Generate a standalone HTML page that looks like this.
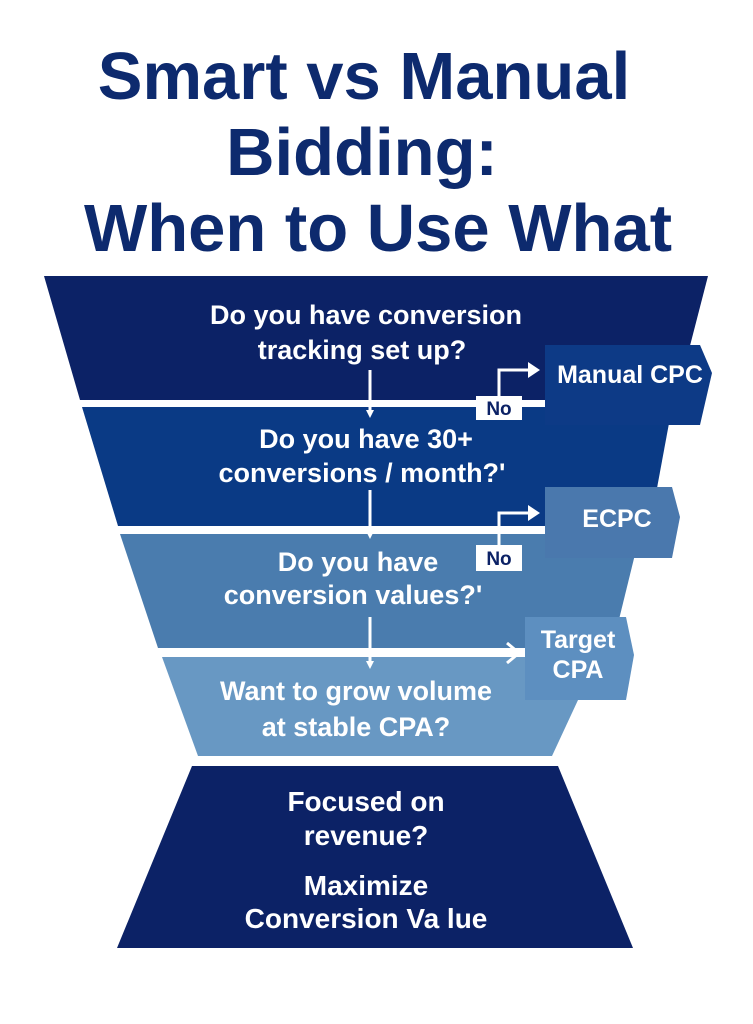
<!DOCTYPE html>
<html><head><meta charset="utf-8"><style>
html,body{margin:0;padding:0;background:#fff;}
svg{display:block}
text{font-family:"Liberation Sans",Arial,sans-serif;font-weight:bold;}
</style></head><body>
<svg width="753" height="1024" viewBox="0 0 753 1024" xmlns="http://www.w3.org/2000/svg">
<defs>
<marker id="ah" markerWidth="8" markerHeight="8" refX="4" refY="4" orient="auto" markerUnits="userSpaceOnUse"><path d="M0,0 L8,4 L0,8 z" fill="#fff"/></marker>
</defs>
<g fill="#0d2a6e" font-size="67" text-anchor="middle">
<text x="364" y="99">Smart vs Manual</text>
<text x="362" y="175">Bidding:</text>
<text x="378" y="251">When to Use What</text>
</g>
<polygon points="44,276 708,276 676,400 80,400" fill="#0c2266"/>
<polygon points="82,407 672,407 650,526 118,526" fill="#0a3a85"/>
<polygon points="120,534 640,534 612,648 158,648" fill="#4a7cae"/>
<polygon points="162,657 598,657 552,756 198,756" fill="#6898c3"/>
<polygon points="192,766 558,766 633,948 117,948" fill="#0c2266"/>
<polygon points="545,345 700,345 712,373 700,425 545,425" fill="#0d3a86"/>
<polygon points="545,487 672,487 680,517 672,558 545,558" fill="#4a78ad"/>
<polygon points="525,617 626,617 634,655 626,700 525,700" fill="#5d8fc0"/>
<g stroke="#fff" stroke-width="3" fill="none">
<line x1="370" y1="370" x2="370" y2="414" marker-end="url(#ah)"/>
<line x1="370" y1="490" x2="370" y2="535" marker-end="url(#ah)"/>
<line x1="370" y1="617" x2="370" y2="665" marker-end="url(#ah)"/>
<polyline points="499,396 499,370 530,370"/>
<polyline points="499,546 499,513 530,513"/>
<polyline points="160,653 510,653"/>
<polyline points="507,643 519,653 507,663"/>
</g>
<polygon points="528,362 540,370 528,378" fill="#fff"/>
<polygon points="528,505 540,513 528,521" fill="#fff"/>
<rect x="476" y="396" width="46" height="24" fill="#fff"/>
<rect x="476" y="545" width="46" height="26" fill="#fff"/>
<g fill="#0c2266" font-size="19" text-anchor="middle">
<text x="499" y="415">No</text>
<text x="499" y="565">No</text>
</g>
<g fill="#fff" font-size="27" text-anchor="middle">
<text x="366" y="324">Do you have conversion</text>
<text x="362" y="359">tracking set up?</text>
<text x="366" y="448">Do you have 30+</text>
<text x="362" y="482">conversions / month?'</text>
<text x="358" y="571">Do you have</text>
<text x="353" y="604">conversion values?'</text>
<text x="356" y="700">Want to grow volume</text>
<text x="356" y="736">at stable CPA?</text>
</g>
<g fill="#fff" font-size="28" text-anchor="middle">
<text x="366" y="811">Focused on</text>
<text x="366" y="845">revenue?</text>
<text x="366" y="895">Maximize</text>
<text x="366" y="928">Conversion Va lue</text>
</g>
<g fill="#fff" font-size="25" text-anchor="middle">
<text x="630" y="383">Manual CPC</text>
<text x="617" y="527">ECPC</text>
<text x="578" y="648">Target</text>
<text x="578" y="678">CPA</text>
</g>
</svg>
</body></html>
